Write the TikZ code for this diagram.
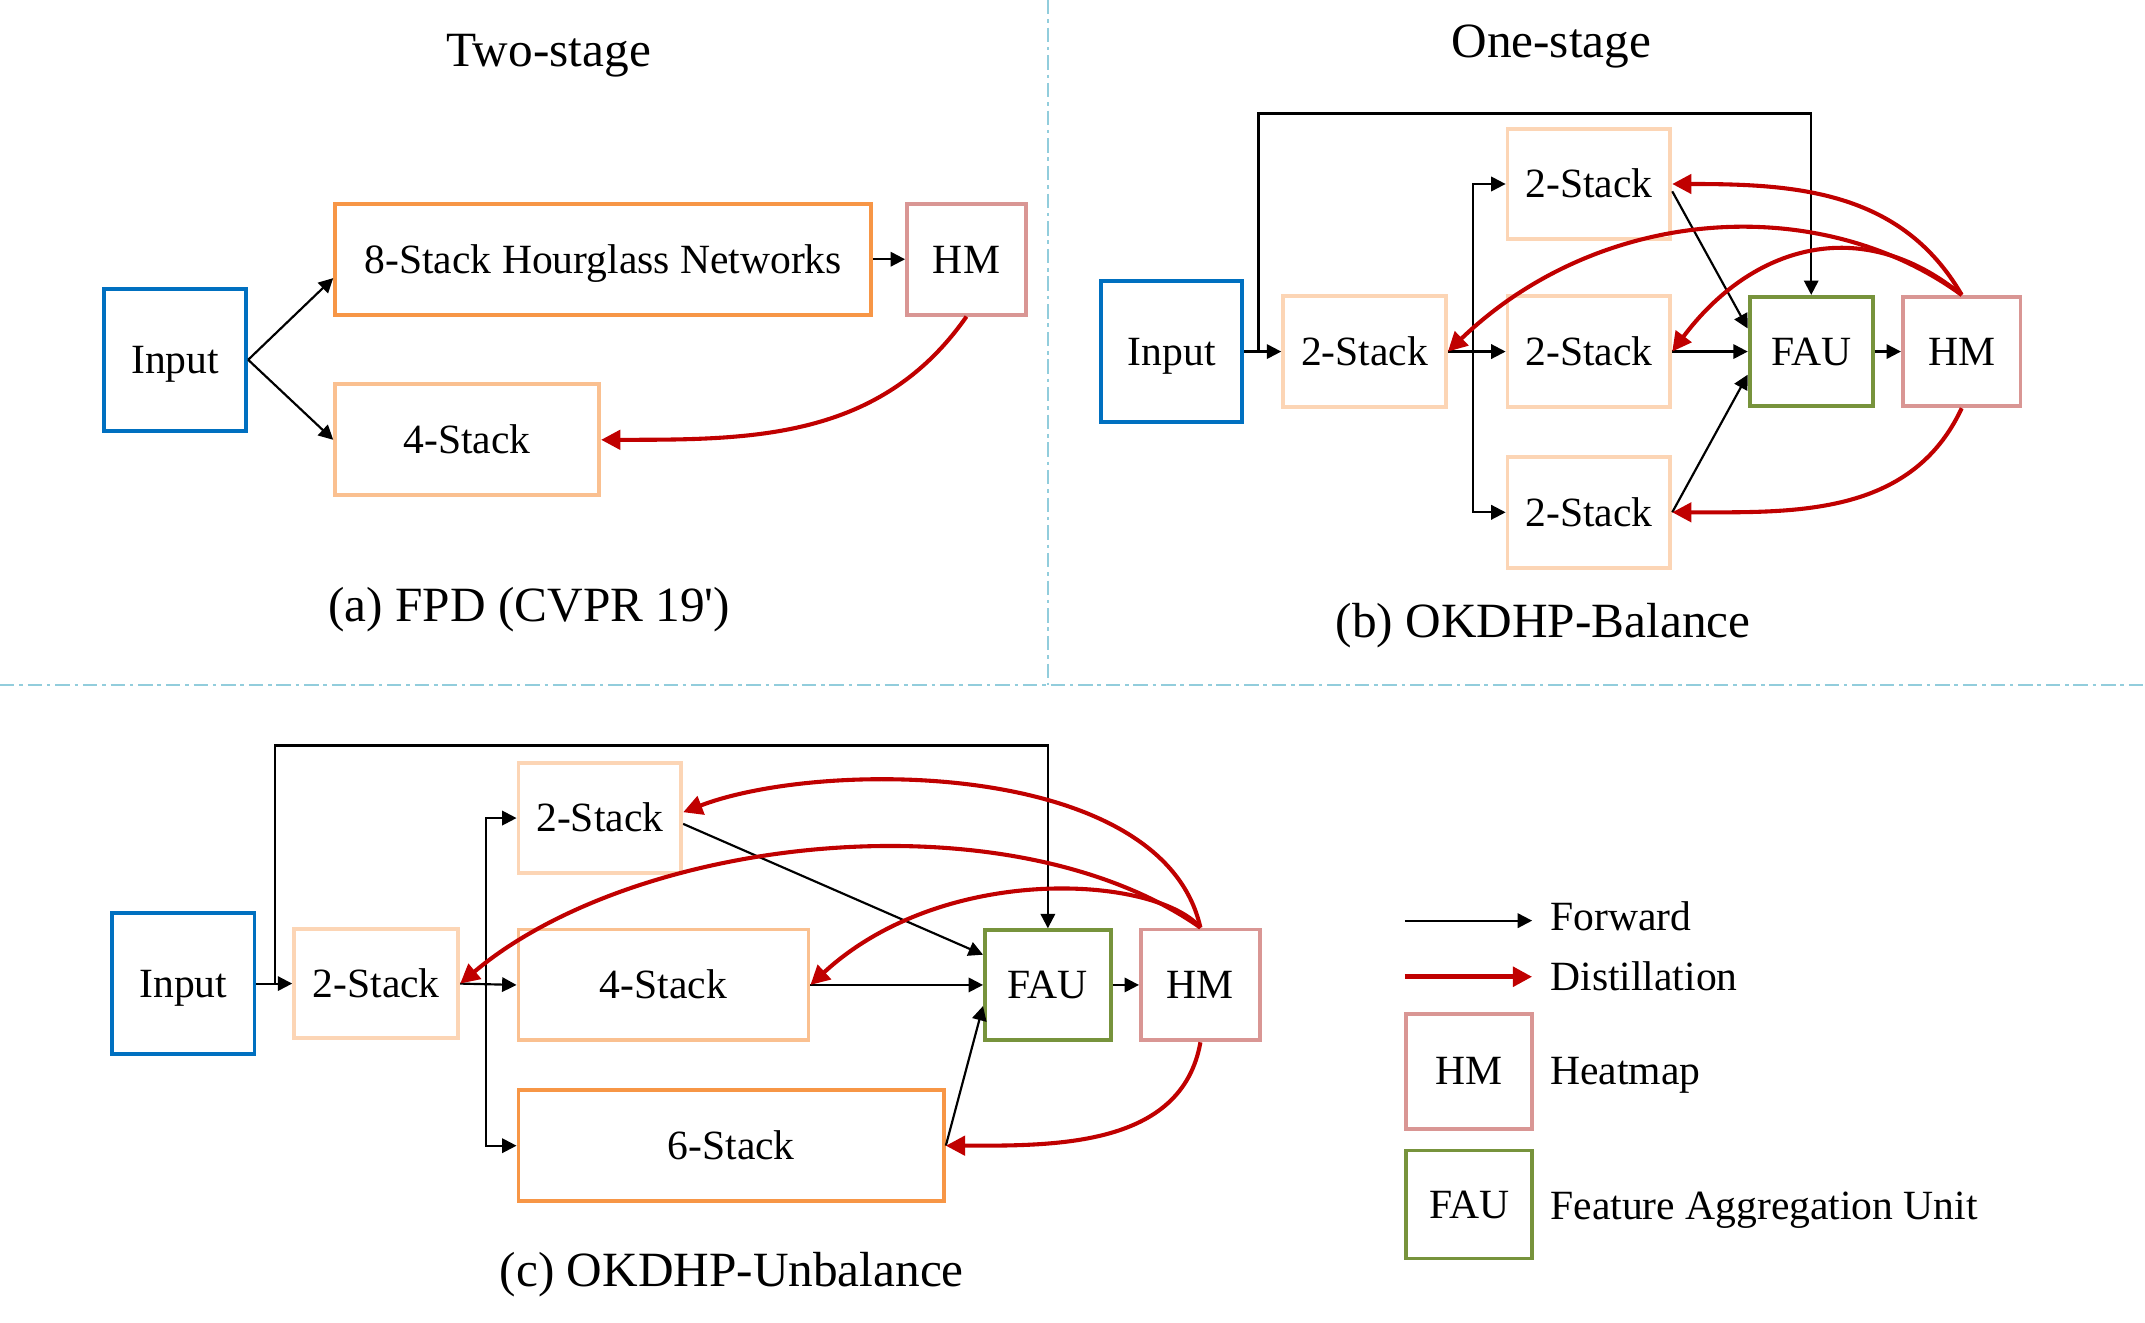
\documentclass[tikz,border=0pt]{standalone}
\usepackage{fontspec}
\setmainfont{Liberation Serif}
\usetikzlibrary{arrows.meta}
\definecolor{inblue}{HTML}{0070C0}
\definecolor{hmpink}{HTML}{D99694}
\definecolor{faugreen}{HTML}{77933C}
\definecolor{stkdark}{HTML}{F79646}
\definecolor{stkmid}{HTML}{FAC090}
\definecolor{stklight}{HTML}{FCD5B5}
\definecolor{distred}{HTML}{C00000}
\definecolor{sepblue}{HTML}{92CDDC}

\begin{document}
\begin{tikzpicture}[x=0.2mm, y=-0.2mm,
	blk/.style={draw, line width=1.6pt, inner sep=0pt, text height=11.5pt, text depth=0pt, font=\fontsize{17.3}{20}\selectfont},
	sz/.style 2 args={minimum width=#1*0.2mm, minimum height=#2*0.2mm},
	fwd/.style={line width=0.9pt, -{Triangle[length=6pt,width=6pt]}},
	dist/.style={draw=distred, line width=1.7pt, -{Triangle[length=8pt,width=8pt]}, color=distred},
	divider/.style={sepblue, line width=0.9pt, dash pattern=on 6pt off 2pt on 1.5pt off 2pt},
	ttl/.style={text height=14pt, text depth=0pt, font=\fontsize{20.5}{24}\selectfont},
	lbl/.style={anchor=west, inner xsep=0pt, text height=11.5pt, text depth=0pt, font=\fontsize{17.3}{20}\selectfont}]
\useasboundingbox (0,0) rectangle (1568,967);

% panel dividers
\draw[divider] (766,0) -- (766,501);
\draw[divider] (0,501) -- (1568,501);

%% (a) two-stage
\node[ttl] (ttlA) at (401,36) {Two-stage};
\node[blk, draw=inblue, sz={104}{104}] (inA) at (128,263) {Input};
\node[blk, draw=stkdark, sz={392}{81}] (hgA) at (441,189.5) {8-Stack Hourglass Networks};
\node[blk, draw=hmpink, sz={87}{81}] (hmA) at (706.5,189.5) {HM};
\node[blk, draw=stkmid, sz={193}{81}] (stA) at (341.5,321.5) {4-Stack};
\draw[fwd] (inA.east) -- (hgA.184);
\draw[fwd] (inA.east) -- (stA.west);
\draw[fwd] (hgA.east) -- (hmA.west);
\draw[dist] (hmA.south) to[out=-125, in=0] (stA.east);
\node[ttl] (capA) at (387,442) {(a) FPD (CVPR 19\textquotesingle)};

%% (b) one-stage, balanced
\node[ttl] (ttlB) at (1134,30) {One-stage};
\node[blk, draw=inblue, sz={103}{103}] (inB) at (856.5,257) {Input};
\node[blk, draw=stklight, sz={119}{81}] (sB0) at (997.5,257) {2-Stack};
\node[blk, draw=stklight, sz={119}{81}] (sB1) at (1161.5,134.5) {2-Stack};
\node[blk, draw=stklight, sz={119}{81}] (sB2) at (1161.5,257) {2-Stack};
\node[blk, draw=stklight, sz={119}{81}] (sB3) at (1161.5,374.5) {2-Stack};
\node[blk, draw=faugreen, sz={90}{80}] (fauB) at (1324,257) {FAU};
\node[blk, draw=hmpink, sz={86}{80}] (hmB) at (1434,257) {HM};
\coordinate (jB) at (920,257);
\coordinate (tB) at (1324,83);
\coordinate (bB) at (1077,257);
\draw[fwd] (inB.east) -- (sB0.west);
\draw[fwd] (jB) |- (tB) -- (fauB.north);
\draw[fwd] (sB0.east) -- (sB2.west);
\draw[fwd] (bB) |- (sB1.west);
\draw[fwd] (bB) |- (sB3.west);
\draw[fwd] (sB1.-5) -- (fauB.160);
\draw[fwd] (sB2.east) -- (fauB.west);
\draw[fwd] (sB3.east) -- (fauB.200);
\draw[fwd] (fauB.east) -- (hmB.west);
\draw[dist] (hmB.north) to[out=120, in=0] (sB1.east);
\draw[dist] (hmB.north) .. controls (1330,140) and (1170,150) .. (sB0.east);
\draw[dist] (hmB.north) .. controls (1360,155) and (1280,180) .. (sB2.east);
\draw[dist] (hmB.south) to[out=-115, in=0] (sB3.east);
\node[ttl] (capB) at (1128,454) {(b) OKDHP-Balance};

%% (c) one-stage, unbalanced
\node[blk, draw=inblue, sz={104}{103}] (inC) at (134,719) {Input};
\node[blk, draw=stklight, sz={120}{80}] (sC0) at (275,719) {2-Stack};
\node[blk, draw=stklight, sz={119}{80}] (sC1) at (438.5,598) {2-Stack};
\node[blk, draw=stkmid, sz={212}{81}] (sC2) at (485,720) {4-Stack};
\node[blk, draw=stkdark, sz={311}{81}] (sC3) at (534.5,837.5) {6-Stack};
\node[blk, draw=faugreen, sz={92}{80}] (fauC) at (766,720) {FAU};
\node[blk, draw=hmpink, sz={87}{81}] (hmC) at (877.5,720) {HM};
\coordinate (jC) at (201,719);
\coordinate (tC) at (766,545);
\coordinate (bC) at (355,719);
\draw[fwd] (inC.east) -- (sC0.west);
\draw[fwd] (jC) |- (tC) -- (fauC.north);
\draw[fwd] (sC0.east) -- (sC2.west);
\draw[fwd] (bC) |- (sC1.west);
\draw[fwd] (bC) |- (sC3.west);
\draw[fwd] (sC1.-4) -- (fauC.155);
\draw[fwd] (sC2.east) -- (fauC.west);
\draw[fwd] (sC3.east) -- (fauC.198);
\draw[fwd] (fauC.east) -- (hmC.west);
\draw[dist] (hmC.north) .. controls (850,555) and (600,555) .. (sC1.4);
\draw[dist] (hmC.north) to[out=145, in=40, looseness=0.8] (sC0.east);
\draw[dist] (hmC.north) .. controls (845,640) and (690,630) .. (sC2.east);
\draw[dist] (hmC.south) to[out=-100, in=0] (sC3.east);
\node[ttl] (capC) at (535,928) {(c) OKDHP-Unbalance};

%% legend
\coordinate (lgF1) at (1027,673);
\coordinate (lgF2) at (1120,673);
\coordinate (lgD1) at (1027,714);
\coordinate (lgD2) at (1120,714);
\draw[fwd] (lgF1) -- (lgF2);
\draw[dist, line width=2.2pt] (lgD1) -- (lgD2);
\node[lbl] (lgF) at (1133,670) {Forward};
\node[lbl] (lgD) at (1133,714) {Distillation};
\node[blk, draw=hmpink, sz={92}{84}] (lgHM) at (1074,783) {HM};
\node[lbl] (lgH) at (1133,783) {Heatmap};
\node[blk, draw=faugreen, sz={92}{79}] (lgFAU) at (1074,880.5) {FAU};
\node[lbl] (lgU) at (1133,881) {Feature Aggregation Unit};
\end{tikzpicture}
\end{document}
